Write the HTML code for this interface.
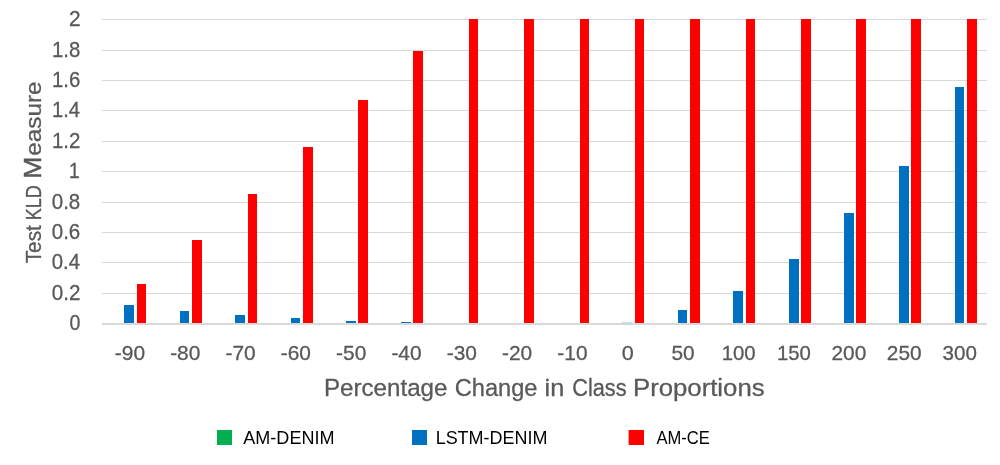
<!DOCTYPE html>
<html>
<head>
<meta charset="utf-8">
<title>Test KLD Measure vs Percentage Change in Class Proportions</title>
<style>
html,body{margin:0;padding:0;background:#fff;}
body{width:1000px;height:465px;overflow:hidden;font-family:"Liberation Sans",sans-serif;}
svg text{font-family:"Liberation Sans",sans-serif;vector-effect:non-scaling-stroke;stroke-linejoin:round;}
</style>
</head>
<body>
<svg width="1000" height="465" viewBox="0 0 1000 465" style="display:block">
<rect x="0" y="0" width="1000" height="465" fill="#FFFFFF"/>
<g fill="#D9D9D9" shape-rendering="crispEdges">
<rect x="102.0" y="293" width="885.0" height="1"/>
<rect x="102.0" y="262" width="885.0" height="1"/>
<rect x="102.0" y="232" width="885.0" height="1"/>
<rect x="102.0" y="202" width="885.0" height="1"/>
<rect x="102.0" y="171" width="885.0" height="1"/>
<rect x="102.0" y="141" width="885.0" height="1"/>
<rect x="102.0" y="110" width="885.0" height="1"/>
<rect x="102.0" y="80" width="885.0" height="1"/>
<rect x="102.0" y="50" width="885.0" height="1"/>
<rect x="102.0" y="19" width="885.0" height="1"/>
<rect x="102.0" y="323" width="885.0" height="2"/>
</g>
<g fill="#0070C0" shape-rendering="crispEdges">
<rect x="124" y="305" width="10" height="18"/>
<rect x="180" y="311" width="9" height="12"/>
<rect x="235" y="315" width="10" height="8"/>
<rect x="291" y="318" width="9" height="5"/>
<rect x="346" y="321" width="10" height="2"/>
<rect x="401" y="322" width="10" height="1"/>
<rect x="678" y="310" width="9" height="13"/>
<rect x="733" y="291" width="10" height="32"/>
<rect x="789" y="259" width="10" height="64"/>
<rect x="844" y="213" width="10" height="110"/>
<rect x="899" y="166" width="10" height="157"/>
<rect x="955" y="87" width="9" height="236"/>
</g>
<rect x="622" y="322.6" width="10" height="0.5" fill="#0070C0" opacity="0.55"/>
<g fill="#FF0000" shape-rendering="crispEdges">
<rect x="137" y="284" width="9" height="39"/>
<rect x="192" y="240" width="10" height="83"/>
<rect x="248" y="194" width="9" height="129"/>
<rect x="303" y="147" width="10" height="176"/>
<rect x="358" y="100" width="10" height="223"/>
<rect x="413" y="51" width="10" height="272"/>
<rect x="469" y="19" width="9" height="304"/>
<rect x="524" y="19" width="10" height="304"/>
<rect x="580" y="19" width="9" height="304"/>
<rect x="635" y="19" width="9" height="304"/>
<rect x="690" y="19" width="10" height="304"/>
<rect x="746" y="19" width="9" height="304"/>
<rect x="801" y="19" width="10" height="304"/>
<rect x="856" y="19" width="10" height="304"/>
<rect x="911" y="19" width="10" height="304"/>
<rect x="967" y="19" width="10" height="304"/>
</g>
<rect x="217" y="430" width="15" height="15" fill="#00B050"/>
<rect x="412" y="430" width="15" height="15" fill="#0070C0"/>
<rect x="628.6" y="430" width="15.4" height="15" fill="#FF0000"/>
<g font-family="'Liberation Sans', sans-serif" style="opacity:0.999">
<text transform="translate(69.41,329.90) scale(0.9204,1)" font-size="21.29" fill="#595959" stroke="#595959" stroke-width="0.3">0</text>
<text transform="translate(51.78,299.90) scale(0.9689,1)" font-size="21.29" fill="#595959" stroke="#595959" stroke-width="0.3">0.2</text>
<text transform="translate(51.79,268.90) scale(0.9544,1)" font-size="21.29" fill="#595959" stroke="#595959" stroke-width="0.3">0.4</text>
<text transform="translate(51.79,238.90) scale(0.9616,1)" font-size="21.29" fill="#595959" stroke="#595959" stroke-width="0.3">0.6</text>
<text transform="translate(51.79,208.90) scale(0.9616,1)" font-size="21.29" fill="#595959" stroke="#595959" stroke-width="0.3">0.8</text>
<text transform="translate(69.06,177.90) scale(0.8969,1)" font-size="21.29" fill="#595959" stroke="#595959" stroke-width="0.3">1</text>
<text transform="translate(51.97,147.90) scale(0.9625,1)" font-size="21.29" fill="#595959" stroke="#595959" stroke-width="0.3">1.2</text>
<text transform="translate(51.99,116.90) scale(0.9476,1)" font-size="21.29" fill="#595959" stroke="#595959" stroke-width="0.3">1.4</text>
<text transform="translate(51.98,86.90) scale(0.9550,1)" font-size="21.29" fill="#595959" stroke="#595959" stroke-width="0.3">1.6</text>
<text transform="translate(51.98,56.90) scale(0.9550,1)" font-size="21.29" fill="#595959" stroke="#595959" stroke-width="0.3">1.8</text>
<text transform="translate(68.96,25.90) scale(0.9804,1)" font-size="21.29" fill="#595959" stroke="#595959" stroke-width="0.3">2</text>
<text transform="translate(114.82,359.70) scale(0.9947,1)" font-size="21.00" fill="#595959" stroke="#595959" stroke-width="0.3">-90</text>
<text transform="translate(170.13,359.70) scale(0.9947,1)" font-size="21.00" fill="#595959" stroke="#595959" stroke-width="0.3">-80</text>
<text transform="translate(225.45,359.70) scale(0.9947,1)" font-size="21.00" fill="#595959" stroke="#595959" stroke-width="0.3">-70</text>
<text transform="translate(280.76,359.70) scale(0.9947,1)" font-size="21.00" fill="#595959" stroke="#595959" stroke-width="0.3">-60</text>
<text transform="translate(336.07,359.70) scale(0.9947,1)" font-size="21.00" fill="#595959" stroke="#595959" stroke-width="0.3">-50</text>
<text transform="translate(391.38,359.70) scale(0.9947,1)" font-size="21.00" fill="#595959" stroke="#595959" stroke-width="0.3">-40</text>
<text transform="translate(446.70,359.70) scale(0.9947,1)" font-size="21.00" fill="#595959" stroke="#595959" stroke-width="0.3">-30</text>
<text transform="translate(502.01,359.70) scale(0.9947,1)" font-size="21.00" fill="#595959" stroke="#595959" stroke-width="0.3">-20</text>
<text transform="translate(557.32,359.70) scale(0.9947,1)" font-size="21.00" fill="#595959" stroke="#595959" stroke-width="0.3">-10</text>
<text transform="translate(621.82,359.70) scale(1.0301,1)" font-size="21.00" fill="#595959" stroke="#595959" stroke-width="0.3">0</text>
<text transform="translate(671.45,359.70) scale(0.9927,1)" font-size="21.00" fill="#595959" stroke="#595959" stroke-width="0.3">50</text>
<text transform="translate(721.67,359.70) scale(0.9693,1)" font-size="21.00" fill="#595959" stroke="#595959" stroke-width="0.3">100</text>
<text transform="translate(776.98,359.70) scale(0.9693,1)" font-size="21.00" fill="#595959" stroke="#595959" stroke-width="0.3">150</text>
<text transform="translate(831.48,359.70) scale(0.9931,1)" font-size="21.00" fill="#595959" stroke="#595959" stroke-width="0.3">200</text>
<text transform="translate(886.79,359.70) scale(0.9931,1)" font-size="21.00" fill="#595959" stroke="#595959" stroke-width="0.3">250</text>
<text transform="translate(942.53,359.70) scale(0.9807,1)" font-size="21.00" fill="#595959" stroke="#595959" stroke-width="0.3">300</text>
<text transform="translate(323.97,395.50) scale(1.0487,1)" font-size="23.04" fill="#595959" stroke="#595959" stroke-width="0.3">Percentage</text>
<text transform="translate(454.72,395.50) scale(1.0262,1)" font-size="23.04" fill="#595959" stroke="#595959" stroke-width="0.3">Change</text>
<text transform="translate(544.58,395.50) scale(1.1010,1)" font-size="23.04" fill="#595959" stroke="#595959" stroke-width="0.3">in</text>
<text transform="translate(572.21,395.50) scale(0.9431,1)" font-size="23.04" fill="#595959" stroke="#595959" stroke-width="0.3">Class</text>
<text transform="translate(633.04,395.50) scale(1.1170,1)" font-size="23.04" fill="#595959" stroke="#595959" stroke-width="0.3">Proportions</text>
<text transform="translate(243.30,443.80) scale(0.9960,1)" font-size="18.12" fill="#000000" stroke="#000000" stroke-width="0">AM-DENIM</text>
<text transform="translate(435.66,443.80) scale(0.9914,1)" font-size="18.12" fill="#000000" stroke="#000000" stroke-width="0">LSTM-DENIM</text>
<text transform="translate(656.40,443.80) scale(0.9133,1)" font-size="18.12" fill="#000000" stroke="#000000" stroke-width="0">AM-CE</text>
<text transform="translate(40.60,263.32) rotate(-90) scale(0.9448,1)" font-size="22.03" fill="#595959" stroke="#595959" stroke-width="0.3">Test</text>
<text transform="translate(40.60,220.34) rotate(-90) scale(0.8167,1)" font-size="22.03" fill="#595959" stroke="#595959" stroke-width="0.3">KLD</text>
<text transform="translate(40.60,155.67) rotate(-90) scale(1.1039,1)" font-size="22.03" fill="#595959" stroke="#595959" stroke-width="0.3">easure</text>
<text transform="translate(40.60,178.82) rotate(-90) scale(1.0744,1)" font-size="24.64" fill="#595959" stroke="#595959" stroke-width="0.5">M</text>
</g>
</svg>
</body>
</html>
